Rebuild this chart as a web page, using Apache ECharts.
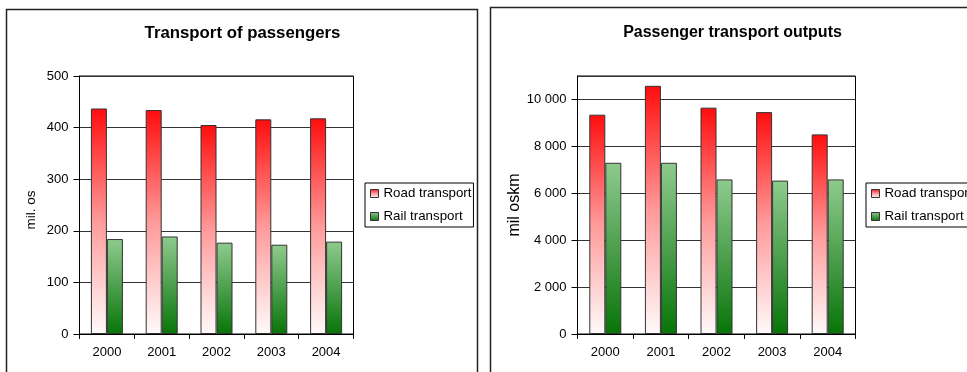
<!DOCTYPE html>
<html>
<head>
<meta charset="utf-8">
<script src="https://cdn.jsdelivr.net/npm/echarts@6/dist/echarts.min.js"></script>
<style>
html,body{margin:0;padding:0;background:#fff;}
#c{width:967px;height:372px;}
</style>
</head>
<body>
<div id="c"></div>
<script>
const years = ['2000', '2001', '2002', '2003', '2004'];
const passengersRoad = [437, 434, 405, 416, 418];
const passengersRail = [184, 189, 177, 173, 179];
const outputsRoad = [9350, 10580, 9650, 9460, 8510];
const outputsRail = [7300, 7300, 6590, 6540, 6590];
const seriesNames = ['Road transport', 'Rail transport'];
const titles = ['Transport of passengers', 'Passenger transport outputs'];
const axisNames = ['mil. os', 'mil oskm'];

const FONT = '"Liberation Sans", Arial, sans-serif';
const roadColor = new echarts.graphic.LinearGradient(0, 0, 0, 1, [
  {offset: 0, color: '#ff0d0d'},
  {offset: 0.5, color: '#ff9a9a'},
  {offset: 1, color: '#fffafa'}
]);
const railColor = new echarts.graphic.LinearGradient(0, 0, 0, 1, [
  {offset: 0, color: '#8ecb8e'},
  {offset: 0.5, color: '#4d9f4d'},
  {offset: 1, color: '#077507'}
]);
function fmt(v) { return String(v).replace(/\B(?=(\d{3})+(?!\d))/g, ' '); }

const chart = echarts.init(document.getElementById('c'), null, {renderer: 'canvas'});
const barStyle = (c) => ({color: c, borderColor: '#333', borderWidth: 1});

const xAxisBase = {
  type: 'category', data: years,
  axisLine: {lineStyle: {color: '#000', width: 1}},
  axisTick: {show: true, length: 5, lineStyle: {color: '#000'}},
  axisLabel: {color: '#000', fontFamily: FONT, fontSize: 13, margin: 12}
};
const yAxisBase = {
  type: 'value', min: 0,
  axisLine: {show: true, lineStyle: {color: '#000', width: 1}},
  axisTick: {show: true, length: 6, lineStyle: {color: '#000'}},
  splitLine: {show: true, lineStyle: {color: '#333', width: 1}},
  nameLocation: 'middle',
  nameTextStyle: {color: '#000', fontFamily: FONT}
};

chart.setOption({
  animation: false,
  backgroundColor: '#fff',
  title: [
    {text: titles[0], left: 242.5, top: 25, textAlign: 'center', padding: 0,
     textStyle: {fontFamily: FONT, fontSize: 16.8, fontWeight: 'bold', color: '#000'}},
    {text: titles[1], left: 732.5, top: 25, textAlign: 'center', padding: 0,
     textStyle: {fontFamily: FONT, fontSize: 16, fontWeight: 'bold', color: '#000'}}
  ],
  legend: [
    {data: seriesNames, orient: 'vertical', left: 365, top: 183, icon: 'rect',
     itemWidth: 8, itemHeight: 8, itemGap: 8, itemStyle: {borderColor: '#333', borderWidth: 1},
     padding: [3, 2, 3, 5], borderColor: '#000', borderWidth: 1, itemTextGap: 4,
     textStyle: {fontFamily: FONT, fontSize: 13.3, color: '#000', lineHeight: 15}},
    {data: seriesNames, orient: 'vertical', left: 866, top: 183, icon: 'rect',
     itemWidth: 8, itemHeight: 8, itemGap: 8, itemStyle: {borderColor: '#333', borderWidth: 1},
     padding: [3, 12, 3, 5], borderColor: '#000', borderWidth: 1, itemTextGap: 4,
     textStyle: {fontFamily: FONT, fontSize: 13.3, color: '#000', lineHeight: 15}}
  ],
  grid: [
    {left: 79.5, top: 76, width: 274, height: 258, show: true, borderColor: '#000', borderWidth: 1, backgroundColor: 'transparent'},
    {left: 577.5, top: 76, width: 278, height: 258, show: true, borderColor: '#000', borderWidth: 1, backgroundColor: 'transparent'}
  ],
  xAxis: [
    Object.assign({}, xAxisBase, {gridIndex: 0}),
    Object.assign({}, xAxisBase, {gridIndex: 1})
  ],
  yAxis: [
    Object.assign({}, yAxisBase, {gridIndex: 0, max: 500, interval: 100,
      name: axisNames[0], nameGap: 41,
      nameTextStyle: {color: '#000', fontFamily: FONT, fontSize: 13.5, padding: [0, 10, 0, 0]},
      axisLabel: {color: '#000', fontFamily: FONT, fontSize: 13, margin: 11}}),
    Object.assign({}, yAxisBase, {gridIndex: 1, max: 11000, interval: 2000,
      name: axisNames[1], nameGap: 52,
      nameTextStyle: {color: '#000', fontFamily: FONT, fontSize: 16},
      axisLabel: {color: '#000', fontFamily: FONT, fontSize: 13, margin: 11, showMaxLabel: false, formatter: fmt}})
  ],
  series: [
    {name: seriesNames[0], type: 'bar', xAxisIndex: 0, yAxisIndex: 0, data: passengersRoad, barWidth: 16, barGap: '0%', itemStyle: barStyle(roadColor)},
    {name: seriesNames[1], type: 'bar', xAxisIndex: 0, yAxisIndex: 0, data: passengersRail, barWidth: 16, barGap: '0%', itemStyle: barStyle(railColor)},
    {name: seriesNames[0], type: 'bar', xAxisIndex: 1, yAxisIndex: 1, data: outputsRoad, barWidth: 16, barGap: '0%', itemStyle: barStyle(roadColor)},
    {name: seriesNames[1], type: 'bar', xAxisIndex: 1, yAxisIndex: 1, data: outputsRail, barWidth: 16, barGap: '0%', itemStyle: barStyle(railColor)}
  ],
  graphic: [
    {type: 'rect', shape: {x: 6.5, y: 9.5, width: 471, height: 420}, style: {fill: 'none', stroke: '#222', lineWidth: 1.5}, silent: true, z: 100},
    {type: 'rect', shape: {x: 490.5, y: 7.5, width: 520, height: 420}, style: {fill: 'none', stroke: '#222', lineWidth: 1.5}, silent: true, z: 100}
  ]
});
</script>
</body>
</html>
